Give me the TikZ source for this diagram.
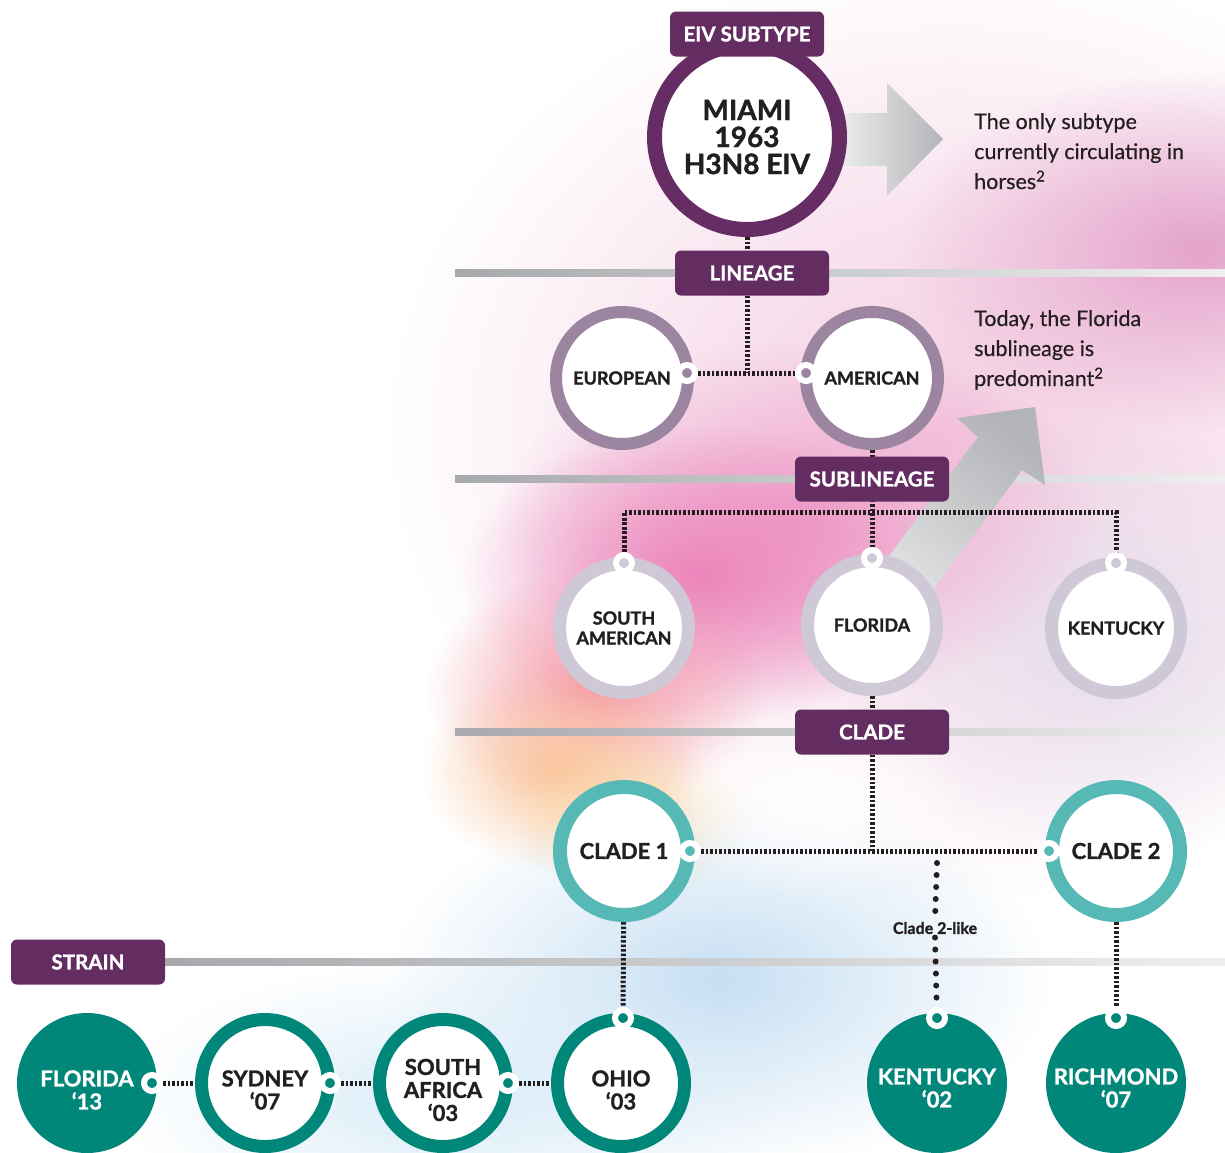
\documentclass[tikz,border=0pt]{standalone}
\usepackage{fontspec}
\setmainfont{Lato}[UprightFeatures={FakeBold=0.4}, BoldFeatures={FakeBold=1.3}]
\usetikzlibrary{fadings}

\definecolor{tagpurple}{HTML}{632D62}
\definecolor{miamipurple}{HTML}{662D64}
\definecolor{linpurple}{HTML}{9C85A1}
\definecolor{sublgray}{HTML}{CFC8D6}
\definecolor{cladeteal}{HTML}{57B9B6}
\definecolor{strainteal}{HTML}{00877A}
\definecolor{darktext}{HTML}{231F20}
\definecolor{rulegray}{HTML}{A7A9AC}
\definecolor{rulelight}{HTML}{EFEFF0}
\definecolor{arrowlight}{HTML}{E9EAEB}
\definecolor{arrowdark}{HTML}{B3B5B8}
\definecolor{bgpale}{HTML}{F4CCE1}
\definecolor{bgpink}{HTML}{EC85BB}
\definecolor{bgrose}{HTML}{EFA6CD}
\definecolor{bgmauve}{HTML}{E4A2CB}
\definecolor{bgsalmon}{HTML}{F59AA6}
\definecolor{bgpeach}{HTML}{FAC59C}
\definecolor{bgyellow}{HTML}{FCDDAE}
\definecolor{bgblue}{HTML}{C6DFF3}
\definecolor{bgsky}{HTML}{D9ECF8}
\definecolor{bglav}{HTML}{E6DFEC}

\pgfdeclarelayer{back}
\pgfdeclarelayer{links}
\pgfsetlayers{back,links,main}

\tikzfading[name=softblob, inner color=transparent!0, outer color=transparent!100]

\begin{document}
\begin{tikzpicture}[x=1pt, y=-1pt, node distance=178pt]
	\tikzstyle{tag} = [fill=tagpurple, rounded corners=6pt, minimum width=154pt, minimum height=45pt, text=white, font=\fontsize{20.5}{20}\selectfont\bfseries]
	\tikzstyle{ring} = [circle, fill=white, inner sep=0pt, align=center, text=darktext, font=\fontsize{18}{20}\selectfont\bfseries]
	\tikzstyle{miamiring} = [ring, draw=miamipurple, line width=15pt, minimum size=185pt, font=\fontsize{28}{27}\selectfont\bfseries]
	\tikzstyle{linring} = [ring, draw=linpurple, line width=12pt, minimum size=132pt]
	\tikzstyle{subring} = [ring, draw=sublgray, line width=13pt, minimum size=129pt]
	\tikzstyle{clring} = [ring, draw=cladeteal, line width=14pt, minimum size=128pt, font=\fontsize{22}{22}\selectfont\bfseries]
	\tikzstyle{strring} = [ring, draw=strainteal, line width=13pt, minimum size=127pt, font=\fontsize{22}{23}\selectfont\bfseries]
	\tikzstyle{strfull} = [strring, fill=strainteal, text=white]
	\tikzstyle{port} = [circle, draw=white, line width=6pt, minimum size=16pt, inner sep=0pt]
	\tikzstyle{dotline} = [line width=5pt, dash pattern=on 2.6pt off 1.9pt, darktext]
	\tikzstyle{roundline} = [line width=6pt, line cap=round, dash pattern=on 0pt off 12pt, darktext]
	\tikzstyle{note} = [anchor=north west, align=left, inner sep=0pt, text=darktext, font=\fontsize{21.5}{30}\selectfont]

	\useasboundingbox (0,0) rectangle (1225,1152);

	% soft colour wash behind everything
	\begin{pgfonlayer}{back}
	\begin{scope}
	\clip (0,0) rectangle (1225,1152);
	\fill[white] (0,0) rectangle (1225,1152);
	\fill[bgpale, path fading=softblob] (950,430) ellipse (560pt and 470pt);
	\fill[bglav, path fading=softblob] (1100,640) ellipse (260pt and 220pt);
	\fill[bgmauve, path fading=softblob] (1200,250) ellipse (300pt and 180pt);
	\fill[bgrose, path fading=softblob] (800,520) ellipse (300pt and 180pt);
	\fill[bgpink, path fading=softblob] (700,575) ellipse (240pt and 150pt);
	\fill[bgsalmon, path fading=softblob] (595,690) ellipse (170pt and 120pt);
	\fill[bgpeach, path fading=softblob] (560,770) ellipse (140pt and 100pt);
	\fill[bgyellow, path fading=softblob] (630,820) ellipse (120pt and 80pt);
	\fill[bgblue, path fading=softblob] (720,980) ellipse (330pt and 190pt);
	\fill[bgsky, path fading=softblob] (450,1100) ellipse (330pt and 140pt);
	\fill[white, path fading=softblob] (820,800) ellipse (160pt and 100pt);
	\end{scope}

	% level rules
	\shade[left color=rulegray, right color=rulelight] (455,269.5) rectangle (1225,276.5);
	\shade[left color=rulegray, right color=rulelight] (455,475.5) rectangle (1225,482.5);
	\shade[left color=rulegray, right color=rulelight] (455,728.5) rectangle (1225,735.5);
	\shade[left color=rulegray, right color=rulelight] (165,958.5) rectangle (1225,965.5);

	% grey arrows
	\shade[left color=arrowlight, right color=arrowdark] (843,113) -- (887,113) -- (887,83) -- (943,139) -- (887,196) -- (887,166) -- (843,166) -- cycle;
	\shade[bottom color=arrowlight, top color=arrowdark, shading angle=-38] (850,608) -- (978,437) -- (957,418) -- (1035,407) -- (1045,485) -- (1022,470) -- (894,642) -- cycle;
	\end{pgfonlayer}

	% subtype and lineage
	\node[miamiring] (miami) at (747,137) {MIAMI\\1963\\H3N8 EIV};
	\node[tag] (eivtag) at (747,34) {EIV SUBTYPE};
	\node[tag] (lintag) at (752,273) {LINEAGE};
	\node[linring] (european) at (622,378) {EUROPEAN};
	\node[linring] (american) at (872,378) {AMERICAN};
	\node[port, fill=linpurple] (eurport) at (687,373) {};
	\node[port, fill=linpurple] (amerport) at (806,373) {};
	\coordinate (linbar) at (747,373);

	% sublineage
	\node[tag] (subtag) at (872,479) {SUBLINEAGE};
	\node[subring] (southam) at (624,628) {SOUTH\\AMERICAN};
	\node[subring] (florida) at (872,625) {FLORIDA};
	\node[subring] (kentucky) at (1116,628) {KENTUCKY};
	\node[port, fill=sublgray] (saport) at (624,563) {};
	\node[port, fill=sublgray] (florport) at (872,558) {};
	\node[port, fill=sublgray] (kyport) at (1116,563) {};
	\coordinate (sublbar) at (872,512);

	% clade
	\node[tag] (cladetag) at (872,732) {CLADE};
	\node[clring] (clade1) at (624,851) {CLADE 1};
	\node[clring] (clade2) at (1116,851) {CLADE 2};
	\node[port, fill=cladeteal] (cl1port) at (690,851) {};
	\node[port, fill=cladeteal] (cl2port) at (1049,851) {};
	\coordinate (cladebar) at (872,851);
	\coordinate (cl2like) at (937,863);
	\node[font=\fontsize{16}{16}\selectfont\bfseries, text=darktext] (likelabel) at (935,928) {Clade 2-like};

	% strain (the tall rule pushes the text a little below the centre)
	\node[tag] (straintag) at (88,962) {STRAIN};
	\node[strfull] (fl13) at (87,1083) {\rule{0pt}{30pt}FLORIDA\\‘13};
	\node[strring, right of=fl13] (sydney) {\rule{0pt}{30pt}SYDNEY\\‘07};
	\node[strring, right of=sydney] (safrica) {\rule{0pt}{30pt}SOUTH\\AFRICA\\‘03};
	\node[strring, right of=safrica] (ohio) {\rule{0pt}{30pt}OHIO\\‘03};
	\node[strfull, inner sep=-5pt] (ky02) at (937,1083) {\rule{0pt}{26pt}KENTUCKY\\‘02};
	\node[strfull, inner sep=-5pt] (rich07) at (1116,1083) {\rule{0pt}{26pt}RICHMOND\\‘07};
	\node[port, fill=strainteal] (fl13port) at (152,1083) {};
	\node[port, fill=strainteal] (sydport) at (330,1083) {};
	\node[port, fill=strainteal] (safport) at (508,1083) {};
	\node[port, fill=strainteal] (ohioport) at (623,1018) {};
	\node[port, fill=strainteal] (ky02port) at (937,1018) {};
	\node[port, fill=strainteal] (richport) at (1116,1018) {};

	% notes
	\node[note] (subnote) at (974,113) {The only subtype\\currently circulating in\\horses\textsuperscript{2}};
	\node[note] (flnote) at (974,310) {Today, the Florida\\sublineage is\\predominant\textsuperscript{2}};

	% dotted links
	\begin{pgfonlayer}{links}
	\path[dotline]
	(miami) edge (linbar)
	(eurport) edge (amerport)
	(american) edge (florport)
	(florida) edge (cladebar)
	(cl1port) edge (cl2port)
	(clade1) edge (ohioport)
	(clade2) edge (richport)
	(fl13port) edge (sydney)
	(sydport) edge (safrica)
	(safport) edge (ohio)
	;
	\draw[dotline] (saport.north) |- (sublbar) -| (kyport.north);
	\draw[roundline] (cl2like) -- (likelabel.north);
	\draw[roundline] (likelabel.south) -- (ky02port);
	\end{pgfonlayer}
\end{tikzpicture}
\end{document}
